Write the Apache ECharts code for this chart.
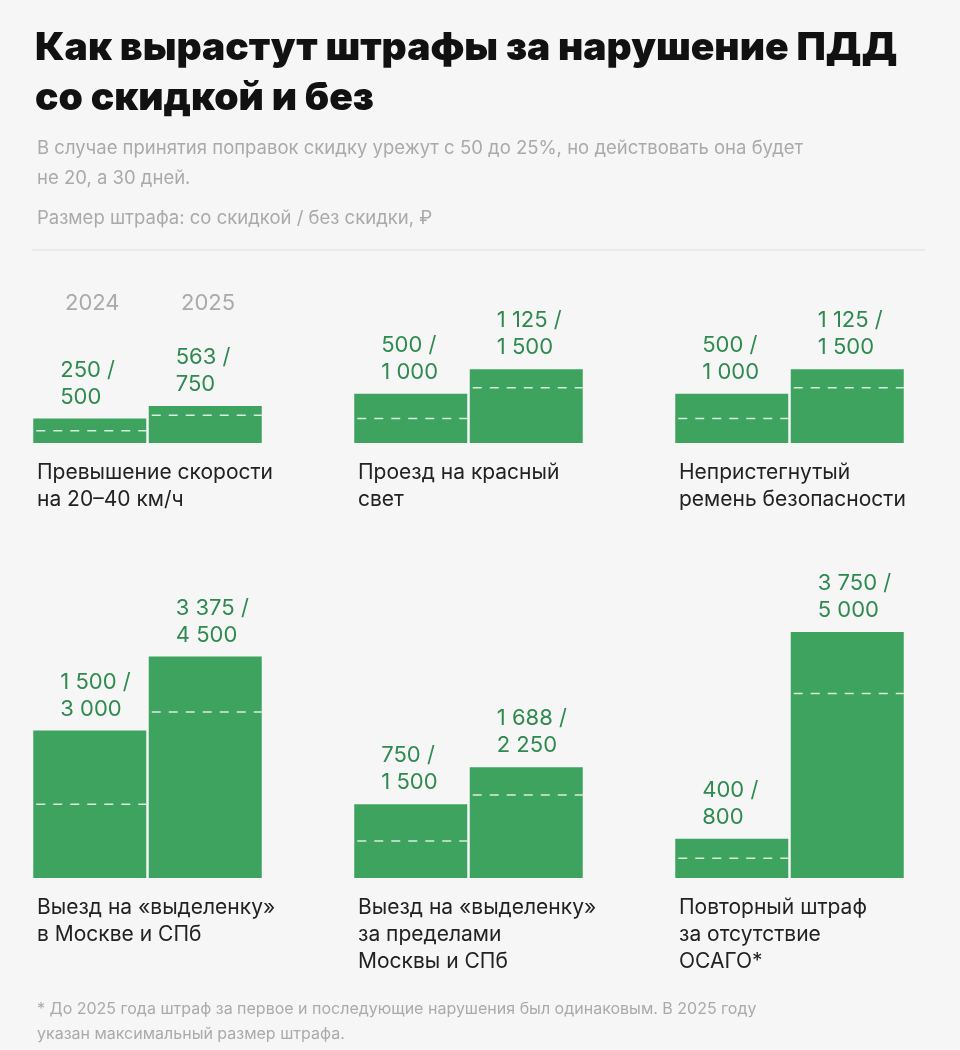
<!DOCTYPE html>
<html><head><meta charset="utf-8">
<script src="https://cdn.jsdelivr.net/npm/echarts@6/dist/echarts.min.js"></script>
<style>body{margin:0;background:#f6f6f6}#c{width:960px;height:1050px}</style>
</head><body><div id="c"></div>
<script>
const years = ['2024', '2025'];
const categories = ['Превышение скорости\nна 20–40 км/ч', 'Проезд на красный\nсвет', 'Непристегнутый\nремень безопасности',
  'Выезд на «выделенку»\nв Москве и СПб', 'Выезд на «выделенку»\nза пределами\nМосквы и СПб', 'Повторный штраф\nза отсутствие\nОСАГО*'];
const fullFine = [[500, 750], [1000, 1500], [1000, 1500], [3000, 4500], [1500, 2250], [800, 5000]];
const discountFine = [[250, 563], [500, 1125], [500, 1125], [1500, 3375], [750, 1688], [400, 3750]];
const fmt = n => n >= 1000 ? String(n).replace(/\B(?=(\d{3})+(?!\d))/g, ' ') : String(n);

const green = '#3da35f', textGreen = '#2f8a50';
const lefts = [32, 353, 674];
const grids = [], xAxes = [], yAxes = [], series = [], titles = [];
categories.forEach((cat, i) => {
  const col = i % 3, row = Math.floor(i / 3);
  const bottom = row === 0 ? 607 : 172;
  grids.push({left: lefts[col], width: 231, bottom: bottom, height: 246});
  xAxes.push({type: 'category', gridIndex: i, data: years, show: false});
  yAxes.push({type: 'value', gridIndex: i, min: 0, max: 5000, show: false});
  series.push({
    type: 'bar', xAxisIndex: i, yAxisIndex: i, barWidth: 113, itemStyle: {color: green}, z: 2,
    data: fullFine[i].map((v, k) => ({value: v, disc: discountFine[i][k]})),
    label: {show: true, position: [27, -8], align: 'left', verticalAlign: 'bottom',
      color: textGreen, fontSize: 22, lineHeight: 27, fontFamily: 'Inter',
      formatter: p => fmt(discountFine[i][p.dataIndex]) + ' /\n' + fmt(p.value)}
  });
  series.push({
    type: 'custom', xAxisIndex: i, yAxisIndex: i, silent: true, z: 10, clip: false,
    encode: {x: 0, y: 1},
    data: discountFine[i].map((v, k) => [k, v]),
    renderItem: (params, api) => {
      const c = api.coord([api.value(0), api.value(1)]);
      const w = 113;
      return {type: 'line', z2: 100, shape: {x1: c[0] - w / 2 + 3, y1: c[1], x2: c[0] + w / 2, y2: c[1]},
        style: {stroke: 'rgba(255,255,255,0.8)', fill: null, lineWidth: 1.5, lineDash: [9, 8]}};
    }
  });
  titles.push({text: cat, left: lefts[col], top: row === 0 ? 454 : 889,
    textStyle: {fontSize: 21, lineHeight: 27, fontWeight: 'normal', color: '#222', fontFamily: 'Inter'}});
});
titles.unshift(
  {text: 'Как вырастут штрафы за нарушение ПДД\nсо скидкой и без', left: 30, top: 18,
    textStyle: {fontSize: 39, lineHeight: 50, fontWeight: 900, color: '#111', fontFamily: 'Inter'}},
  {text: 'В случае принятия поправок скидку урежут с 50 до 25%, но действовать она будет\nне 20, а 30 дней.', left: 32, top: 128,
    textStyle: {fontSize: 18.5, lineHeight: 30, fontWeight: 'normal', color: '#aaa', fontFamily: 'Inter'}},
  {text: 'Размер штрафа: со скидкой / без скидки, ₽', left: 32, top: 204,
    textStyle: {fontSize: 18.5, fontWeight: 'normal', color: '#aaa', fontFamily: 'Inter'}},
  {text: years[0], left: 60, top: 287, textStyle: {fontSize: 22, fontWeight: 'normal', color: '#aaa', fontFamily: 'Inter'}},
  {text: years[1], left: 176, top: 287, textStyle: {fontSize: 22, fontWeight: 'normal', color: '#aaa', fontFamily: 'Inter'}},
  {text: '* До 2025 года штраф за первое и последующие нарушения был одинаковым. В 2025 году\nуказан максимальный размер штрафа.', left: 32, top: 992,
    textStyle: {fontSize: 16, lineHeight: 25, fontWeight: 'normal', color: '#aaa', fontFamily: 'Inter'}}
);
const chart = echarts.init(document.getElementById('c'));
chart.setOption({
  backgroundColor: '#f6f6f6', animation: false,
  title: titles, grid: grids, xAxis: xAxes, yAxis: yAxes, series: series,
  graphic: [{type: 'line', shape: {x1: 32, y1: 250, x2: 925, y2: 250}, style: {stroke: '#ddd', lineWidth: 1}}]
});
</script></body></html>
